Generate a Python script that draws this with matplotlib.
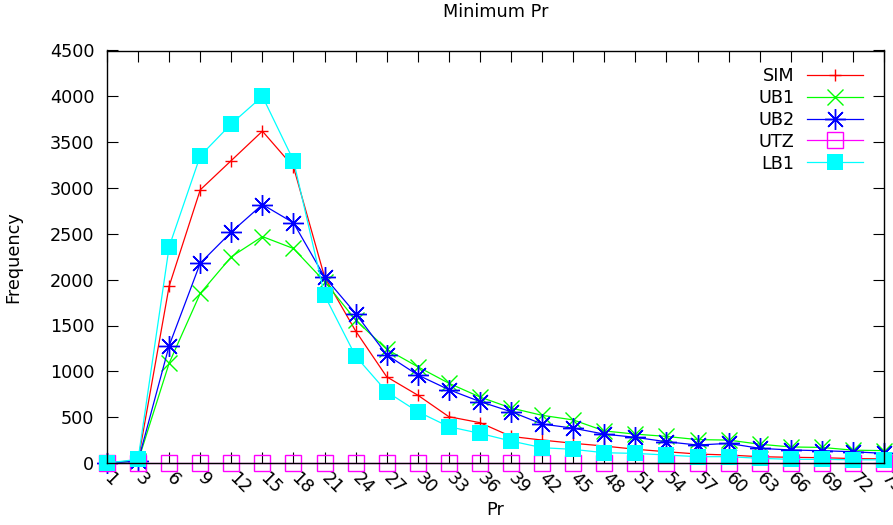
import matplotlib.pyplot as plt
import numpy as np

pr = [1, 3, 6, 9, 12, 15, 18, 21, 24, 27, 30, 33, 36, 39, 42, 45, 48, 51, 54, 57, 60, 63, 66, 69, 72, 75]
sim = [0, 30, 1930, 2980, 3300, 3620, 3230, 2030, 1440, 940, 740, 505, 440, 290, 250, 215,
       185, 150, 123, 98, 87, 69, 62, 58, 48, 45]
ub1 = [0, 20, 1090, 1850, 2250, 2470, 2340, 1980, 1560, 1240, 1050, 870, 720, 600, 520, 470,
       350, 315, 290, 255, 250, 205, 175, 170, 140, 135]
ub2 = [0, 20, 1280, 2180, 2520, 2820, 2620, 2030, 1630, 1180, 960, 800, 670, 560, 425, 380,
       315, 280, 232, 196, 214, 160, 142, 134, 123, 105]
utz = [0] * len(pr)
lb1 = [0, 40, 2360, 3350, 3700, 4000, 3300, 1830, 1165, 777, 560, 396, 323, 240, 167, 149,
       112, 105, 87, 69, 69, 51, 40, 40, 35, 35]

plt.rcParams['font.family'] = 'DejaVu Sans'
plt.rcParams['font.size'] = 12.7

fig = plt.figure(figsize=(8.93, 5.25), dpi=100)
ax = fig.add_axes([107 / 893, 1 - 463 / 525, 777 / 893, 412.5 / 525])

x = np.arange(len(pr))
ax.plot(x, sim, color='#ff0000', lw=0.9, marker='+', ms=9, mew=1.0, label='SIM', clip_on=False)
ax.plot(x, ub1, color='#00ff00', lw=0.9, marker='x', ms=11, mew=1.0, label='UB1', clip_on=False)
ax.plot(x, ub2, color='#0000ff', lw=0.9, marker=(8, 2, 0), ms=15, mew=1.0, label='UB2', clip_on=False)
ax.plot(x, utz, color='#ff00ff', lw=0.9, marker='s', ms=11, mew=1.0, mfc='none', label='UTZ', clip_on=False)
ax.plot(x, lb1, color='#00ffff', lw=0.9, marker='s', ms=11, mew=0, label='LB1', clip_on=False)

ax.set_xlim(0, len(pr) - 1)
ax.set_ylim(0, 4500)
ax.set_yticks(np.arange(0, 4501, 500))
ax.set_xticks(x)
ax.set_xticklabels([str(p) for p in pr], rotation=-45, ha='left', va='center',
                   rotation_mode='anchor')
ax.tick_params(direction='in', length=8, width=0.8, top=True, right=True)
ax.tick_params(axis='y', pad=9)
ax.tick_params(axis='x', pad=9)
for s in ax.spines.values():
    s.set_linewidth(1.0)

ax.set_title('Minimum Pr', fontsize=12.7, pad=24)
ax.set_xlabel('Pr')
ax.set_ylabel('Frequency')
ax.xaxis.set_label_coords(0.5, -0.092)
ax.yaxis.set_label_coords(-0.109, 0.5)

ax.legend(loc='upper right', bbox_to_anchor=(0.973, 0.96), frameon=False, markerfirst=False,
          numpoints=1, handlelength=3.2, handletextpad=0.7, labelspacing=0.22,
          borderpad=0, borderaxespad=0)

fig.savefig('out.png', dpi=100)
